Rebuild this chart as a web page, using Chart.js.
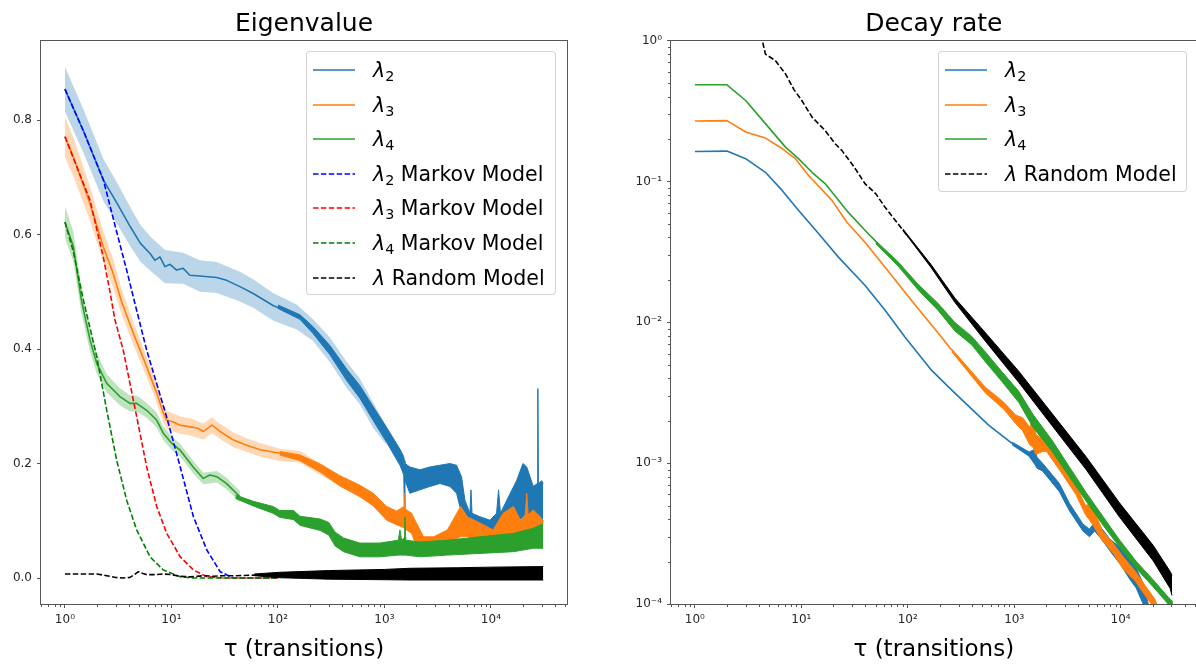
<!DOCTYPE html>
<html>
<head>
<meta charset="utf-8">
<title>Eigenvalue and Decay rate</title>
<script src="https://cdn.jsdelivr.net/npm/chart.js@4.4.1/dist/chart.umd.min.js"></script>
<style>
  html, body { margin:0; padding:0; background:#fff; }
  body { width:1196px; height:665px; overflow:hidden; position:relative; font-family:'DejaVu Sans', sans-serif; }
  .pane { position:absolute; top:0; height:665px; }
  #paneL { left:0; width:600px; }
  #paneR { left:600px; width:600px; }
  canvas { position:absolute; left:0; top:0; }
  .legend { position:absolute; box-sizing:border-box; background:rgba(255,255,255,0.8); border:1px solid rgba(204,204,204,0.85); border-radius:4px; }
  .legend .row { position:absolute; left:6px; height:30px; display:flex; align-items:center; white-space:nowrap; font-size:20.5px; color:#000; }
  .legend svg { display:block; flex:none; }
  .legend .lbl { margin-left:18px; }
  .legend i { font-style:italic; }
  .legend sub { font-size:0.7em; vertical-align:-0.3em; line-height:0; }
</style>
</head>
<body>
<div class="pane" id="paneL">
  <canvas id="cL" width="600" height="665"></canvas>
  <div class="legend" id="legL" style="left:306px;top:51px;width:250px;height:244px;"></div>
</div>
<div class="pane" id="paneR">
  <canvas id="cR" width="600" height="665"></canvas>
  <div class="legend" id="legR" style="left:338px;top:51px;width:249px;height:141px;"></div>
</div>
<script>
// ================= Tick labels =================
const xTickExp  = [0, 1, 2, 3, 4];
const xTickText = ['10⁰', '10¹', '10²', '10³', '10⁴'];
const yTickValsL = [0, 0.2, 0.4, 0.6, 0.8];
const yTickTextL = ['0.0', '0.2', '0.4', '0.6', '0.8'];
const yTickExpR  = [-4, -3, -2, -1, 0];
const yTickTextR = ['10⁻⁴', '10⁻³', '10⁻²', '10⁻¹', '10⁰'];

// ================= LEFT: Eigenvalue =================
// lambda_2 mean (smooth part)
const tauL2 = [1, 1.5, 2.3, 3.1, 4.1, 5.1, 6.3, 7.0, 7.8, 8.7, 9.7, 11.2, 12.9, 14.9, 18.5, 26.6, 33, 44, 58.6, 90, 120, 150];
const lam2  = [0.854, 0.78, 0.695, 0.654, 0.614, 0.585, 0.567, 0.555, 0.561, 0.544, 0.548, 0.538, 0.541, 0.529, 0.5275, 0.525, 0.52, 0.509, 0.497, 0.476, 0.466, 0.458];
// lambda_2 noisy part (upper / lower extent of the trace)
const tauE2 = [100, 161, 214, 308, 442, 589, 786, 1050, 1400, 1520, 1540, 1560, 1735, 2153, 2673, 3318, 4120, 4760, 5300, 5700, 6350, 6500, 6650, 7890, 9800, 11300, 11800, 12300, 14100, 17500, 20000, 21700, 25000, 27300, 27600, 27900, 30000, 31000];
const upE2  = [0.477, 0.460, 0.439, 0.406, 0.365, 0.336, 0.299, 0.263, 0.225, 0.212, 0.205, 0.2, 0.194, 0.189, 0.194, 0.197, 0.2, 0.197, 0.177, 0.136, 0.113, 0.154, 0.113, 0.107, 0.101, 0.113, 0.154, 0.113, 0.136, 0.171, 0.2, 0.194, 0.16, 0.165, 0.331, 0.165, 0.17, 0.165];
const loE2  = [0.471, 0.452, 0.427, 0.390, 0.345, 0.314, 0.275, 0.237, 0.197, 0.18, 0.11, 0.17, 0.148, 0.154, 0.16, 0.165, 0.16, 0.148, 0.113, 0.084, 0.084, 0.09, 0.084, 0.078, 0.078, 0.078, 0.08, 0.078, 0.084, 0.101, 0.105, 0.113, 0.107, 0.1, 0.1, 0.1, 0.096, 0.1];
// lambda_2 confidence band
const tauC2 = [1, 1.5, 2.3, 3.1, 4.1, 5.1, 6.3, 8.7, 12.9, 18.5, 26.6, 44, 58.6, 90, 150, 214, 308, 442, 589, 786, 1050];
const upC2  = [0.893, 0.818, 0.732, 0.690, 0.648, 0.617, 0.597, 0.573, 0.568, 0.555, 0.552, 0.535, 0.522, 0.498, 0.478, 0.452, 0.420, 0.378, 0.348, 0.306, 0.264];
const loC2  = [0.815, 0.742, 0.658, 0.618, 0.580, 0.553, 0.537, 0.515, 0.514, 0.500, 0.498, 0.483, 0.472, 0.450, 0.434, 0.414, 0.377, 0.332, 0.303, 0.262, 0.232];

// lambda_3
const tauL3 = [1, 1.2, 1.72, 2.29, 2.84, 3.4, 4.4, 5.86, 7.28, 8.4, 9.04, 10.5, 12.1, 15, 17.5, 20, 24, 28.7, 38.3, 51, 68, 105, 130, 162];
const lam3  = [0.771, 0.736, 0.654, 0.579, 0.532, 0.483, 0.427, 0.369, 0.323, 0.288, 0.276, 0.272, 0.267, 0.264, 0.262, 0.256, 0.267, 0.256, 0.241, 0.232, 0.224, 0.218, 0.214, 0.212];
const tauE3 = [104, 161, 250, 380, 589, 786, 1050, 1300, 1530, 1557, 1580, 1800, 2000, 2330, 2900, 3900, 5200, 6000, 7900, 10500, 13000, 16300, 18900, 21000, 21700, 22400, 25000, 29000, 31000];
const upE3  = [0.221, 0.215, 0.199, 0.179, 0.162, 0.148, 0.125, 0.117, 0.125, 0.148, 0.12, 0.113, 0.096, 0.072, 0.072, 0.084, 0.125, 0.107, 0.096, 0.084, 0.113, 0.125, 0.101, 0.11, 0.148, 0.11, 0.119, 0.107, 0.1];
const loE3  = [0.215, 0.205, 0.185, 0.161, 0.142, 0.126, 0.101, 0.093, 0.088, 0.084, 0.085, 0.078, 0.055, 0.052, 0.055, 0.061, 0.072, 0.072, 0.066, 0.066, 0.066, 0.078, 0.072, 0.078, 0.084, 0.078, 0.078, 0.078, 0.08];
const tauC3 = [1, 1.2, 1.72, 2.29, 2.84, 3.4, 4.4, 5.86, 7.28, 8.4, 9.04, 12.1, 15, 20, 24, 28.7, 38.3, 51, 68, 105, 162, 250, 380];
const upC3  = [0.806, 0.770, 0.684, 0.606, 0.557, 0.505, 0.447, 0.387, 0.340, 0.304, 0.292, 0.282, 0.279, 0.270, 0.281, 0.269, 0.254, 0.244, 0.236, 0.226, 0.222, 0.200, 0.178];
const loC3  = [0.736, 0.702, 0.624, 0.552, 0.507, 0.461, 0.407, 0.351, 0.306, 0.272, 0.260, 0.252, 0.249, 0.242, 0.253, 0.243, 0.228, 0.220, 0.212, 0.204, 0.202, 0.180, 0.162];

// lambda_4
const tauL4 = [1, 1.2, 1.43, 1.72, 1.99, 2.47, 3.28, 4.08, 4.72, 5.85, 7.26, 8.4, 10.1, 12, 16, 19.9, 23, 26.7, 33, 44];
const lam4  = [0.622, 0.579, 0.485, 0.416, 0.375, 0.340, 0.317, 0.305, 0.305, 0.293, 0.276, 0.253, 0.235, 0.224, 0.194, 0.174, 0.18, 0.177, 0.165, 0.142];
const tauE4 = [40, 58.6, 90, 104, 140, 161, 250, 300, 345, 413, 589, 900, 1350, 1400, 1450, 1530, 1557, 1590, 2150, 3900, 7900, 16300, 25000, 31000];
const upE4  = [0.145, 0.134, 0.125, 0.118, 0.118, 0.108, 0.103, 0.097, 0.080, 0.070, 0.061, 0.061, 0.066, 0.084, 0.066, 0.07, 0.107, 0.066, 0.063, 0.066, 0.072, 0.078, 0.087, 0.095];
const loE4  = [0.139, 0.126, 0.113, 0.106, 0.102, 0.092, 0.083, 0.075, 0.056, 0.046, 0.037, 0.037, 0.040, 0.040, 0.040, 0.04, 0.04, 0.04, 0.037, 0.040, 0.043, 0.046, 0.052, 0.052];
const tauC4 = [1, 1.2, 1.43, 1.72, 1.99, 2.47, 3.28, 4.08, 4.72, 5.85, 7.26, 8.4, 10.1, 12, 16, 19.9, 26.7, 33, 44];
const upC4  = [0.650, 0.605, 0.507, 0.436, 0.393, 0.356, 0.332, 0.319, 0.319, 0.306, 0.289, 0.265, 0.247, 0.235, 0.205, 0.184, 0.187, 0.175, 0.152];
const loC4  = [0.594, 0.553, 0.463, 0.396, 0.357, 0.324, 0.302, 0.291, 0.291, 0.280, 0.263, 0.241, 0.223, 0.213, 0.183, 0.164, 0.167, 0.155, 0.132];

// Markov models
const tauM2 = [1, 1.5, 2.3, 3.06, 3.8, 4.4, 5.86, 9.0, 12.1, 16.1, 21.5, 28.7, 38, 60, 100];
const mark2 = [0.854, 0.78, 0.695, 0.605, 0.538, 0.49, 0.398, 0.282, 0.194, 0.107, 0.049, 0.011, 0.0, 0.0, 0.0];
const tauM3 = [1, 1.72, 2.29, 2.65, 2.95, 3.53, 4.72, 5.86, 7.28, 9.04, 12.1, 16.1, 21.5, 31, 60, 100];
const mark3 = [0.771, 0.66, 0.561, 0.50, 0.451, 0.398, 0.282, 0.194, 0.125, 0.078, 0.037, 0.014, 0.0023, 0.0, 0.0, 0.0];
const tauM4 = [1, 1.2, 1.49, 1.99, 2.47, 3.06, 3.8, 4.72, 6.3, 8.4, 12.1, 16, 25, 60, 100];
const mark4 = [0.622, 0.57, 0.486, 0.387, 0.293, 0.206, 0.136, 0.084, 0.037, 0.014, 0.0023, 0.0, 0.0, 0.0, 0.0];

// Random model (left)
const tauR  = [1, 1.5, 2.0, 2.47, 3.0, 3.5, 4.08, 4.5, 4.9, 5.4, 5.85, 7, 8.4, 10, 12, 15, 20, 25, 30, 40, 60, 100];
const randL = [0.007, 0.007, 0.007, 0.004, 0.001, 0.0, 0.001, 0.006, 0.011, 0.008, 0.006, 0.006, 0.007, 0.006, 0.003, 0.002, 0.004, 0.003, 0.004, 0.004, 0.005, 0.005];
const tauRE = [60, 104, 300, 1000, 1740, 5000, 10000, 31000];
const upRE  = [0.007, 0.010, 0.013, 0.015, 0.017, 0.018, 0.019, 0.02];
const loRE  = [0.004, 0.0005, -0.002, -0.003, -0.0035, -0.0035, -0.0035, -0.0035];

// ================= RIGHT: Decay rate =================
const tauD2  = [1, 2, 3, 4.6, 6.6, 9.4, 14.5, 22.3, 39.6, 61, 94, 167, 259, 575, 955];
const dec2   = [0.163, 0.164, 0.145, 0.116, 0.0863, 0.0623, 0.0426, 0.029, 0.0183, 0.0122, 0.00787, 0.00457, 0.0033, 0.00186, 0.00138];
const tauDE2 = [955, 1380, 1560, 1640, 1845, 2650, 3300, 4420, 5100, 5690, 6350, 7890, 10000, 12200, 14000, 16300, 18200];
const upDE2  = [0.00141, 0.0012, 0.00125, 0.0011, 0.001, 0.00072, 0.00052, 0.00037, 0.00034, 0.00038, 0.00036, 0.00029, 0.00025, 0.00021, 0.00018, 0.00014, 0.0001];
const loDE2  = [0.00135, 0.00112, 0.00098, 0.00092, 0.00088, 0.00063, 0.00046, 0.00033, 0.0003, 0.00033, 0.0003, 0.00024, 0.00019, 0.00015, 0.00013, 0.0001, 0.00008];

const tauD3  = [1, 2, 3, 4.6, 6.6, 8.8, 11.7, 19.4, 26.7, 39.6, 61, 108, 207, 259];
const dec3   = [0.268, 0.27, 0.224, 0.203, 0.171, 0.145, 0.11, 0.0733, 0.0515, 0.037, 0.0247, 0.0143, 0.00787, 0.00632];
const tauDE3 = [259, 372, 536, 800, 1030, 1200, 1400, 1500, 1600, 1800, 2000, 2300, 2850, 3800, 4680, 5300, 6760, 8500, 10400, 13800, 17000, 21000, 23000];
const upDE3  = [0.00647, 0.00473, 0.00346, 0.0027, 0.0022, 0.0021, 0.0018, 0.0021, 0.0016, 0.0015, 0.0014, 0.00123, 0.00095, 0.0007, 0.0005, 0.00052, 0.00033, 0.00027, 0.00022, 0.00017, 0.000135, 0.000108, 0.00009];
const loDE3  = [0.00618, 0.00442, 0.00315, 0.00241, 0.00191, 0.0017, 0.00135, 0.0013, 0.00115, 0.0012, 0.00122, 0.00105, 0.00083, 0.0006, 0.00043, 0.00038, 0.00028, 0.00023, 0.00018, 0.000145, 0.000115, 0.000092, 0.00008];

const tauD4  = [1, 2, 3, 4.6, 7.1, 9.4, 12.6, 16.8, 26.7, 39.6, 52.8];
const dec4   = [0.485, 0.485, 0.375, 0.257, 0.175, 0.145, 0.116, 0.096, 0.062, 0.045, 0.036];
const tauDE4 = [50, 81, 125, 192, 278, 400, 536, 770, 1107, 1500, 2290, 3300, 4740, 7000, 9770, 14000, 20300, 29200, 31000];
const upDE4  = [0.0379, 0.0269, 0.0186, 0.01366, 0.00994, 0.00793, 0.00616, 0.00444, 0.00323, 0.00222, 0.00144, 0.00094, 0.000619, 0.000407, 0.000285, 0.000201, 0.000148, 0.000108, 0.000104];
const loDE4  = [0.0362, 0.0251, 0.0170, 0.01218, 0.00865, 0.0069, 0.00524, 0.00378, 0.00269, 0.0018, 0.0012, 0.0008, 0.000538, 0.000354, 0.000254, 0.000179, 0.000132, 0.0000963, 0.000093];

const tauDR  = [4, 4.3, 4.6, 5.7, 7.1, 8.5, 10.1, 12.6, 16.7, 20.8, 24, 31.5, 39.6, 50, 61, 81, 101];
const decR   = [1.08, 1.0, 0.80, 0.72, 0.58, 0.45, 0.375, 0.286, 0.23, 0.185, 0.166, 0.126, 0.0964, 0.0818, 0.0658, 0.05, 0.0403];
const tauDRE = [90, 166, 278, 536, 1107, 2290, 4740, 9770, 20300, 29200, 30400];
const upDRE  = [0.046, 0.0256, 0.0148, 0.00844, 0.00448, 0.00223, 0.00111, 0.000522, 0.00026, 0.00017, 0.00016];
const loDRE  = [0.045, 0.0244, 0.0138, 0.00734, 0.00373, 0.00183, 0.0009, 0.000414, 0.000202, 0.000129, 0.000115];

// ================= helpers =================
const FONT = 'DejaVu Sans';
const AXC = '#555';
const TICKC = '#262626';
const C2 = '#1f77b4', C3 = '#ff7f0e', C4 = '#2ca02c';
const XMIN = Math.pow(10, -0.2245), XMAX = Math.pow(10, 4.7145);

function xy(xs, ys) { return xs.map((x, i) => ({ x: x, y: ys[i] })); }
function isPow10(v) { const l = Math.log10(v); return Math.abs(l - Math.round(l)) < 1e-9; }
function logTickVals(min, max) {
  const out = [];
  for (let e = Math.floor(Math.log10(min)); e <= Math.ceil(Math.log10(max)); e++) {
    for (let m = 1; m <= 9; m++) {
      const v = m * Math.pow(10, e);
      if (v >= min * (1 - 1e-9) && v <= max * (1 + 1e-9)) out.push(v);
    }
  }
  return out;
}
function logLabel(v, exps, texts) {
  if (!isPow10(v)) return '';
  const i = exps.indexOf(Math.round(Math.log10(v)));
  return i >= 0 ? texts[i] : '';
}
function lineDS(xs, ys, color, order, dashed, legendHtml) {
  return { data: xy(xs, ys), borderColor: color, backgroundColor: color, borderWidth: 1.6,
           borderDash: dashed ? [5.5, 2.4] : [], pointRadius: 0, fill: false, tension: 0,
           order: order, legendHtml: legendHtml || null, borderJoinStyle: 'round' };
}
function bandDS(xs, up, lo, fillColor, order) {
  return [
    { data: xy(xs, up), borderWidth: 0, borderColor: 'rgba(0,0,0,0)', pointRadius: 0, fill: false, order: order },
    { data: xy(xs, lo), borderWidth: 0, borderColor: 'rgba(0,0,0,0)', pointRadius: 0, fill: '-1', backgroundColor: fillColor, order: order }
  ];
}
function envDS(xs, up, lo, color, order) {
  return [
    { data: xy(xs, up), borderWidth: 1, borderColor: color, pointRadius: 0, fill: false, order: order, tension: 0 },
    { data: xy(xs, lo), borderWidth: 1, borderColor: color, pointRadius: 0, fill: '-1', backgroundColor: color, order: order, tension: 0 }
  ];
}

const framePlugin = {
  id: 'frame',
  afterDraw(chart) {
    const { ctx, chartArea: a } = chart;
    ctx.save();
    ctx.strokeStyle = AXC; ctx.lineWidth = 1;
    const L = Math.round(a.left) - 0.5, T = Math.round(a.top) - 0.5;
    const R = Math.round(a.right) + 0.5, B = Math.round(a.bottom) + 0.5;
    ctx.strokeRect(L, T, R - L, B - T);
    ctx.beginPath();
    Object.values(chart.scales).forEach(s => {
      if (s.type !== 'logarithmic') return;
      s.ticks.forEach(t => {
        if (isPow10(t.value)) return;
        const p = Math.round(s.getPixelForValue(t.value)) + 0.5;
        if (s.isHorizontal()) { ctx.moveTo(p, B); ctx.lineTo(p, B + 2.5); }
        else { ctx.moveTo(L, p); ctx.lineTo(L - 2.5, p); }
      });
    });
    ctx.stroke();
    ctx.restore();
  }
};

function xScale() {
  return {
    type: 'logarithmic', position: 'bottom', min: XMIN, max: XMAX,
    afterBuildTicks: s => { s.ticks = logTickVals(XMIN, XMAX).map(v => ({ value: v })); },
    afterFit: s => { s.height = 61; },
    ticks: { autoSkip: false, maxRotation: 0, minRotation: 0, padding: 5, color: TICKC,
             font: { family: FONT, size: 12 }, callback: v => logLabel(v, xTickExp, xTickText) },
    grid: { display: true, drawOnChartArea: false, drawTicks: true, tickLength: 4, tickWidth: 1,
            tickColor: c => (c.tick && isPow10(c.tick.value)) ? AXC : 'rgba(0,0,0,0)' },
    border: { display: false },
    title: { display: true, text: 'τ (transitions)', color: '#000',
             font: { family: FONT, size: 23, lineHeight: 1.2 }, padding: { top: 0, bottom: 1 } }
  };
}
function titleOpts(text) {
  return { display: true, text: text, color: '#000', fullSize: false,
           font: { family: FONT, size: 25, weight: 'normal', lineHeight: 1.2 },
           padding: { top: 9, bottom: 1.5 } };
}
function buildLegend(chart, el) {
  const items = chart.data.datasets.filter(d => d.legendHtml);
  el.innerHTML = '';
  items.forEach((d, i) => {
    const row = document.createElement('div');
    row.className = 'row';
    row.style.top = (18 + i * 34.6 - 15) + 'px';
    const dash = d.borderDash && d.borderDash.length ? ' stroke-dasharray="5.5 2.4"' : '';
    row.innerHTML = '<svg width="42" height="6"><line x1="0" y1="3" x2="42" y2="3" stroke="' + d.borderColor +
      '" stroke-width="1.6"' + dash + '/></svg><span class="lbl">' + d.legendHtml + '</span>';
    el.appendChild(row);
  });
}
const baseOpts = { responsive: false, animation: false, devicePixelRatio: 1, events: [] };

// ================= LEFT chart =================
const dsL = [
  ...bandDS(tauC2, upC2, loC2, 'rgba(31,119,180,0.3)', 20),
  lineDS(tauL2, lam2, C2, 19, false, '<i>λ</i><sub>2</sub>'),
  ...envDS(tauE2, upE2, loE2, C2, 19),
  ...bandDS(tauC3, upC3, loC3, 'rgba(255,127,14,0.3)', 18),
  lineDS(tauL3, lam3, C3, 17, false, '<i>λ</i><sub>3</sub>'),
  ...envDS(tauE3, upE3, loE3, C3, 17),
  ...bandDS(tauC4, upC4, loC4, 'rgba(44,160,44,0.3)', 16),
  lineDS(tauL4, lam4, C4, 15, false, '<i>λ</i><sub>4</sub>'),
  ...envDS(tauE4, upE4, loE4, C4, 15),
  lineDS(tauM2, mark2, '#0000ff', 4, true, '<i>λ</i><sub>2</sub> Markov Model'),
  lineDS(tauM3, mark3, '#ff0000', 3, true, '<i>λ</i><sub>3</sub> Markov Model'),
  lineDS(tauM4, mark4, '#008000', 2, true, '<i>λ</i><sub>4</sub> Markov Model'),
  lineDS(tauR, randL, '#000000', 1, true, '<i>λ</i> Random Model'),
  ...envDS(tauRE, upRE, loRE, '#000000', 1)
];
const chartL = new Chart(document.getElementById('cL'), {
  type: 'line',
  data: { datasets: dsL },
  options: Object.assign({}, baseOpts, {
    layout: { padding: { left: 0, right: 33, top: 0, bottom: 0 } },
    plugins: { legend: { display: false }, tooltip: { enabled: false }, title: titleOpts('Eigenvalue') },
    scales: {
      x: xScale(),
      y: {
        type: 'linear', min: -0.0454, max: 0.939,
        afterBuildTicks: s => { s.ticks = yTickValsL.map(v => ({ value: v })); },
        afterFit: s => { s.width = 41; },
        ticks: { padding: 5, color: TICKC, font: { family: FONT, size: 12 }, callback: (v, i) => yTickTextL[i] },
        grid: { display: true, drawOnChartArea: false, drawTicks: true, tickLength: 4, tickColor: AXC },
        border: { display: false }
      }
    }
  }),
  plugins: [framePlugin]
});
buildLegend(chartL, document.getElementById('legL'));

// ================= RIGHT chart =================
const dsR = [
  lineDS(tauD2, dec2, C2, 6, false, '<i>λ</i><sub>2</sub>'),
  ...envDS(tauDE2, upDE2, loDE2, C2, 6),
  lineDS(tauD3, dec3, C3, 5, false, '<i>λ</i><sub>3</sub>'),
  ...envDS(tauDE3, upDE3, loDE3, C3, 5),
  lineDS(tauD4, dec4, C4, 4, false, '<i>λ</i><sub>4</sub>'),
  ...envDS(tauDE4, upDE4, loDE4, C4, 4),
  lineDS(tauDR, decR, '#000000', 1, true, '<i>λ</i> Random Model'),
  ...envDS(tauDRE, upDRE, loDRE, '#000000', 1)
];
const chartR = new Chart(document.getElementById('cR'), {
  type: 'line',
  data: { datasets: dsR },
  options: Object.assign({}, baseOpts, {
    layout: { padding: { left: 0, right: 3, top: 0, bottom: 0 } },
    plugins: { legend: { display: false }, tooltip: { enabled: false }, title: titleOpts('Decay rate') },
    scales: {
      x: xScale(),
      y: {
        type: 'logarithmic', min: 1e-4, max: 1,
        afterBuildTicks: s => { s.ticks = logTickVals(1e-4, 1).map(v => ({ value: v })); },
        afterFit: s => { s.width = 71; },
        ticks: { autoSkip: false, padding: 5, color: TICKC, font: { family: FONT, size: 12 },
                 callback: v => logLabel(v, yTickExpR, yTickTextR) },
        grid: { display: true, drawOnChartArea: false, drawTicks: true, tickLength: 4,
                tickColor: c => (c.tick && isPow10(c.tick.value)) ? AXC : 'rgba(0,0,0,0)' },
        border: { display: false }
      }
    }
  }),
  plugins: [framePlugin]
});
buildLegend(chartR, document.getElementById('legR'));
</script>
</body>
</html>
